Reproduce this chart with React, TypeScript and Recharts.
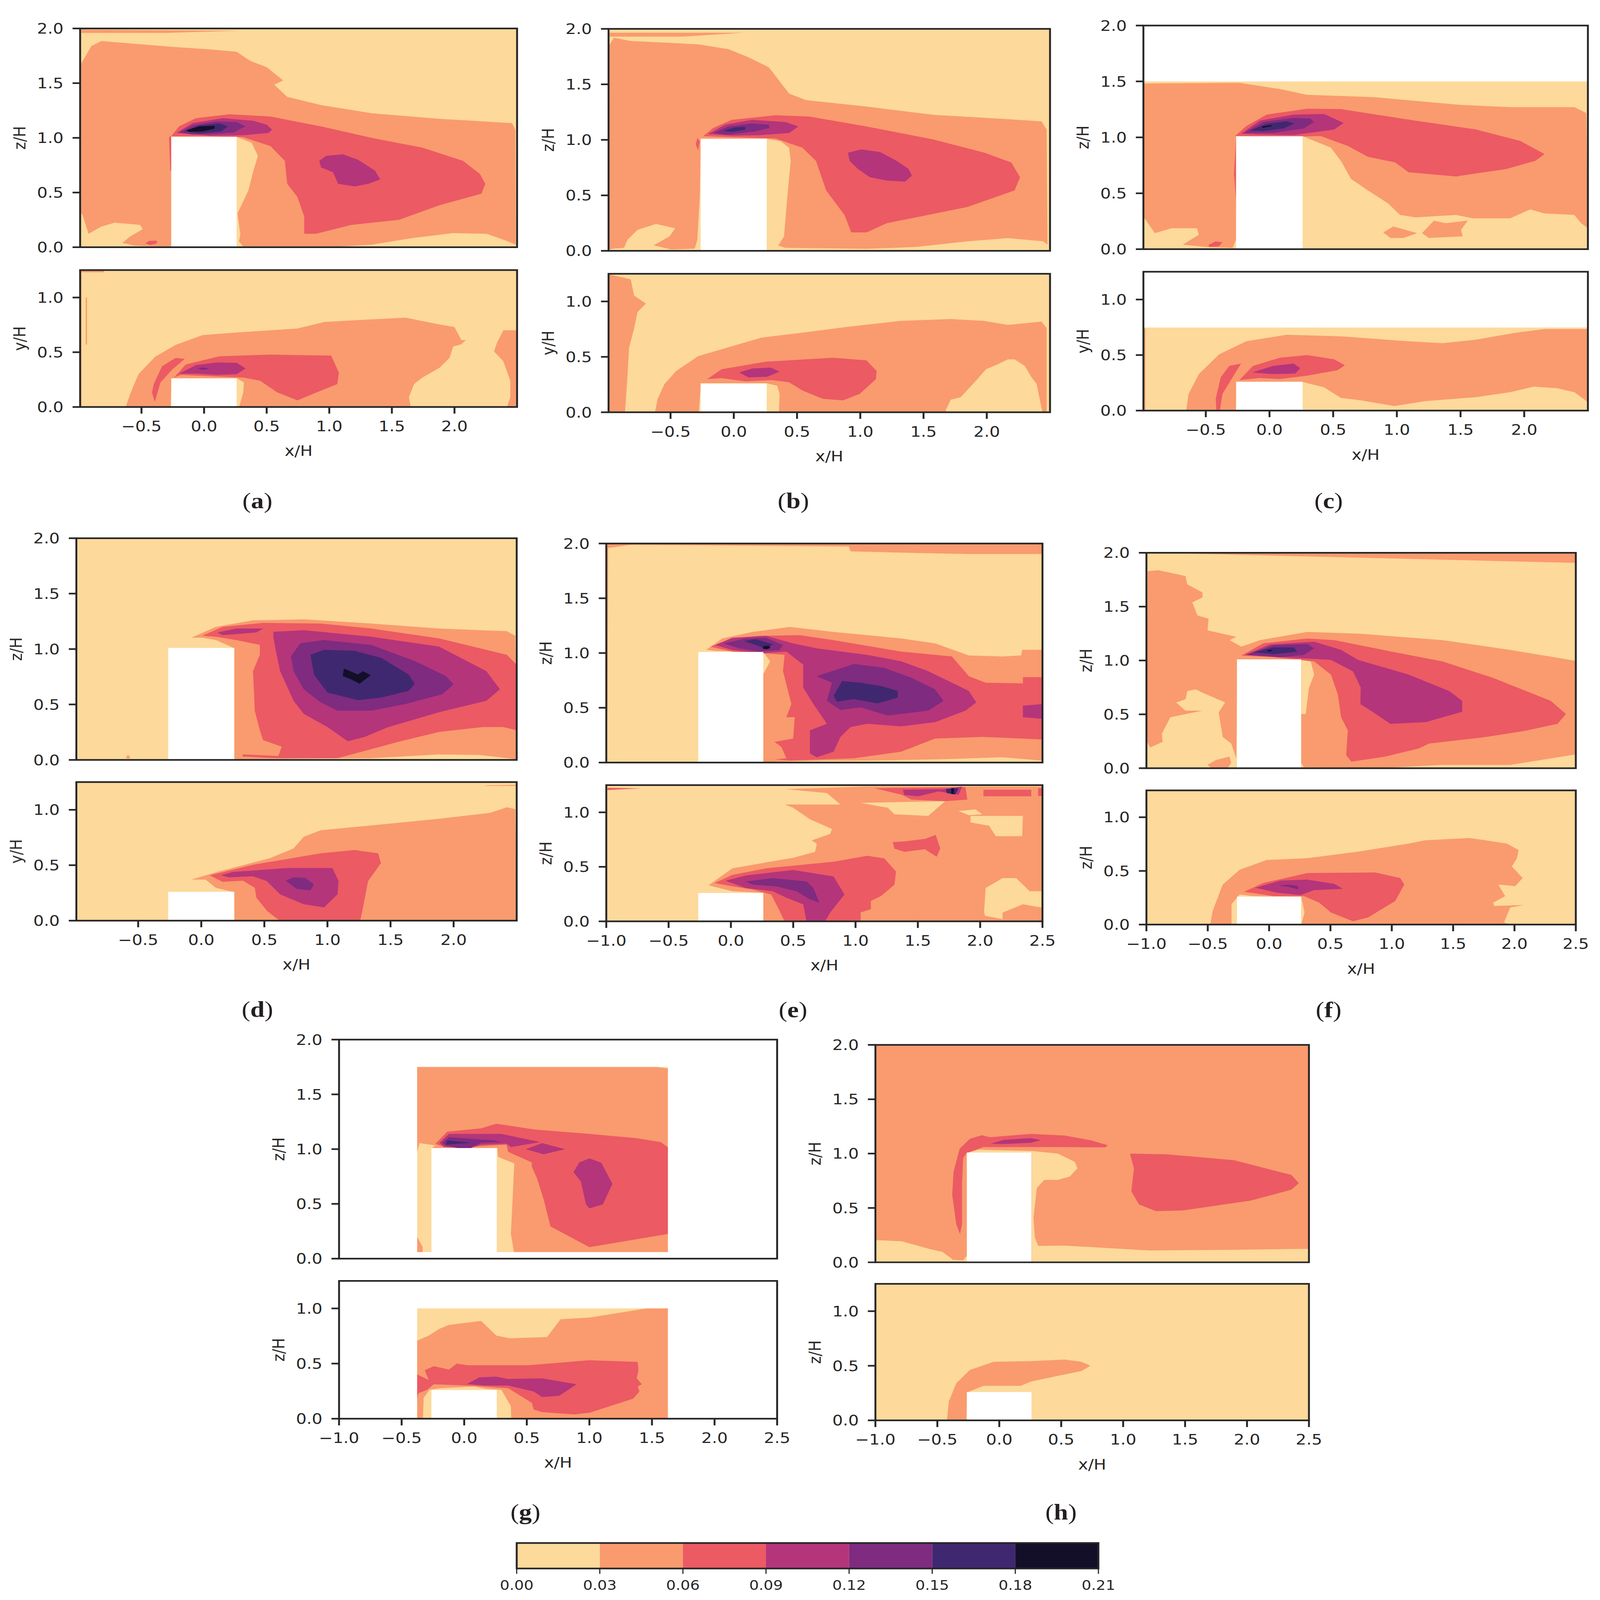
import { Bar, BarChart, ReferenceArea, Scatter, ScatterChart, XAxis, YAxis } from "recharts";

type Pt = number[];

const levels = [0, 0.03, 0.06, 0.09, 0.12, 0.15, 0.18, 0.21];
const levelColors = ["#FDD99B", "#F99B6E", "#EC5A63", "#B4357A", "#7F2B80", "#402870", "#140F29"];
const blank = "#ffffff";

const xTicksCut = [-0.5, 0, 0.5, 1, 1.5, 2];
const xTicksFull = [-1, -0.5, 0, 0.5, 1, 1.5, 2, 2.5];
const yTicksTop = [0, 0.5, 1, 1.5, 2];
const yTicksBottom = [0, 0.5, 1];

const buildingSide: Pt[] = [[-0.262, 0], [0.26, 0], [0.26, 1.01], [-0.262, 1.01]];
const buildingPlan: Pt[] = [[-0.262, 0], [0.26, 0], [0.26, 0.26], [-0.262, 0.26]];
const cutTop: Pt[] = [[-0.99, 0], [2.5, 0], [2.5, 2], [-0.99, 2]];
const cutBottom: Pt[] = [[-0.99, 0], [2.5, 0], [2.5, 1.25], [-0.99, 1.25]];
const fullTop: Pt[] = [[-1, 0], [2.5, 0], [2.5, 2], [-1, 2]];
const fullBottom: Pt[] = [[-1, 0], [2.5, 0], [2.5, 1.25], [-1, 1.25]];

// (a)
const aTopStrip: Pt[] = [[-0.98, 1.99], [0.29, 1.98], [-0.3, 1.96], [-0.98, 1.96]];
const aTop1: Pt[] = [[-0.983, 1.676], [-0.9, 1.84], [-0.82, 1.886], [-0.55, 1.86], [-0.227, 1.83], [0.043, 1.81], [0.26, 1.787], [0.367, 1.705], [0.5, 1.646], [0.632, 1.525], [0.56, 1.486], [0.664, 1.375], [0.934, 1.3], [1.34, 1.225], [1.88, 1.174], [2.46, 1.135], [2.486, 1.075], [2.49, 0.024], [2.39, 0.069], [2.257, 0.123], [1.987, 0.129], [1.663, 0.084], [1.34, 0.024], [1.07, 0.006], [0.313, 0.006], [0.278, 0.054], [0.29, 0.114], [0.267, 0.309], [0.354, 0.52], [0.394, 0.7], [0.43, 0.835], [0.38, 0.955], [0.26, 1.01], [-0.262, 1.01], [-0.262, 0.003], [-0.28, 0.003], [-0.55, 0.015], [-0.653, 0.039], [-0.59, 0.099], [-0.49, 0.165], [-0.51, 0.204], [-0.713, 0.225], [-0.82, 0.189], [-0.923, 0.123], [-0.97, 0.294], [-0.983, 0.31]];
const aTop2: Pt[] = [[-0.262, 1.015], [-0.2, 1.105], [-0.065, 1.18], [0.205, 1.216], [0.53, 1.195], [0.934, 1.105], [1.34, 1], [1.744, 0.91], [2.068, 0.79], [2.203, 0.67], [2.246, 0.58], [2.216, 0.49], [1.88, 0.384], [1.555, 0.25], [1.177, 0.204], [0.894, 0.123], [0.8, 0.123], [0.8, 0.28], [0.745, 0.46], [0.664, 0.58], [0.645, 0.79], [0.53, 0.925], [0.313, 1.006], [-0.01, 1.015]];
const aTop2Foot: Pt[] = [[-0.47, 0.035], [-0.44, 0.058], [-0.38, 0.06], [-0.375, 0.035], [-0.43, 0.02]];
const aTop2Wall: Pt[] = [[-0.28, 1], [-0.27, 1.02], [-0.262, 1], [-0.262, 0.7], [-0.27, 0.7]];
const aTop3: Pt[] = [[-0.22, 1.045], [-0.092, 1.135], [0.15, 1.18], [0.394, 1.156], [0.5, 1.12], [0.543, 1.075], [0.515, 1.045], [0.313, 1.024], [0.043, 1.02]];
const aTop3Wake: Pt[] = [[0.92, 0.79], [0.975, 0.835], [1.11, 0.85], [1.23, 0.8], [1.366, 0.7], [1.407, 0.62], [1.312, 0.58], [1.204, 0.556], [1.07, 0.58], [1.03, 0.685], [0.934, 0.73]];
const aTop4: Pt[] = [[-0.2, 1.05], [-0.092, 1.114], [0.097, 1.15], [0.26, 1.144], [0.33, 1.105], [0.235, 1.05], [0.097, 1.036], [-0.092, 1.03]];
const aTop5: Pt[] = [[-0.16, 1.06], [-0.038, 1.114], [0.124, 1.132], [0.19, 1.105], [0.138, 1.06], [-0.038, 1.04]];
const aTop6: Pt[] = [[-0.14, 1.07], [-0.038, 1.105], [0.084, 1.11], [0.084, 1.085], [-0.01, 1.06], [-0.12, 1.054]];
const aLowEdge: Pt[] = [[-0.99, 0], [-0.98, 0], [-0.98, 1.23], [-0.8, 1.23], [-0.8, 1.245], [-0.99, 1.245]];
const aLowThin: Pt[] = [[-0.945, 1], [-0.935, 1], [-0.935, 0.57], [-0.945, 0.57]];
const aLow1: Pt[] = [[-0.626, 0], [-0.59, 0.12], [-0.524, 0.3], [-0.39, 0.46], [-0.227, 0.567], [-0.01, 0.657], [0.26, 0.68], [0.745, 0.716], [0.96, 0.776], [1.34, 0.8], [1.61, 0.815], [1.85, 0.76], [2, 0.73], [2.055, 0.61], [2.09, 0.61], [2.055, 0.573], [1.99, 0.552], [1.96, 0.448], [1.88, 0.358], [1.744, 0.269], [1.677, 0.209], [1.636, 0.09], [1.65, 0], [0.28, 0], [0.313, 0.134], [0.318, 0.224], [0.26, 0.263], [-0.26, 0.263], [-0.267, 0]];
const aLow1Right: Pt[] = [[2.5, 0.7], [2.39, 0.7], [2.338, 0.582], [2.316, 0.507], [2.39, 0.418], [2.446, 0.239], [2.446, 0.09], [2.42, 0], [2.5, 0]];
const aLow2Arc: Pt[] = [[-0.154, 0.439], [-0.227, 0.448], [-0.335, 0.373], [-0.402, 0.209], [-0.416, 0.134], [-0.394, 0.045], [-0.348, 0.224], [-0.254, 0.343]];
const aLow2: Pt[] = [[-0.24, 0.269], [-0.146, 0.388], [0.124, 0.463], [0.53, 0.478], [1.015, 0.469], [1.077, 0.313], [1.064, 0.209], [0.934, 0.149], [0.745, 0.06], [0.583, 0.134], [0.448, 0.239], [0.313, 0.269], [-0.01, 0.284], [-0.186, 0.293]];
const aLow3: Pt[] = [[-0.2, 0.304], [-0.065, 0.382], [0.097, 0.406], [0.26, 0.403], [0.332, 0.352], [0.26, 0.299], [0.097, 0.293], [-0.065, 0.304]];
const aLow4: Pt[] = [[-0.05, 0.352], [-0.01, 0.361], [0.043, 0.352], [-0.01, 0.337]];

// (b)
const bTopStrip: Pt[] = [[-0.98, 1.965], [0.08, 1.965], [-0.4, 1.93], [-0.98, 1.93]];
const bTop1: Pt[] = [[-0.988, 1.846], [-0.948, 1.92], [-0.815, 1.89], [-0.548, 1.876], [-0.282, 1.86], [-0.043, 1.817], [0.117, 1.743], [0.277, 1.654], [0.357, 1.536], [0.437, 1.417], [0.57, 1.358], [1.05, 1.3], [1.58, 1.225], [2.114, 1.19], [2.433, 1.166], [2.473, 1.092], [2.48, 0.056], [2.447, 0.086], [2.167, 0.115], [1.848, 0.086], [1.448, 0.036], [1.05, 0.018], [0.41, 0.027], [0.351, 0.047], [0.397, 0.13], [0.423, 0.485], [0.45, 0.81], [0.437, 0.929], [0.37, 0.988], [0.258, 1.01], [-0.26, 1.01], [-0.269, 0.485], [-0.288, 0.1], [-0.309, 0.02], [-0.495, 0.012], [-0.634, 0.05], [-0.508, 0.13], [-0.463, 0.204], [-0.615, 0.243], [-0.76, 0.19], [-0.84, 0.1], [-0.868, 0.027], [-0.948, 0.02], [-0.988, 0.012]];
const bTop2: Pt[] = [[-0.242, 1.033], [-0.162, 1.107], [-0.016, 1.18], [0.33, 1.222], [0.596, 1.21], [1.05, 1.121], [1.58, 1.003], [1.98, 0.885], [2.194, 0.796], [2.263, 0.663], [2.22, 0.544], [1.848, 0.396], [1.528, 0.322], [1.209, 0.249], [1.05, 0.166], [0.929, 0.166], [0.876, 0.322], [0.73, 0.544], [0.65, 0.81], [0.543, 0.929], [0.33, 1.012], [-0.016, 1.024]];
const bTop2Wall: Pt[] = [[-0.288, 1.018], [-0.301, 0.96], [-0.282, 0.905], [-0.269, 0.988]];
const bTop3: Pt[] = [[-0.202, 1.053], [-0.069, 1.136], [0.144, 1.18], [0.41, 1.16], [0.511, 1.121], [0.437, 1.062], [0.197, 1.041], [-0.016, 1.038]];
const bTop3Wake: Pt[] = [[0.903, 0.885], [1.009, 0.914], [1.156, 0.89], [1.289, 0.81], [1.382, 0.737], [1.408, 0.678], [1.355, 0.624], [1.209, 0.633], [1.076, 0.663], [0.982, 0.737], [0.916, 0.81]];
const bTop4: Pt[] = [[-0.162, 1.062], [-0.043, 1.121], [0.144, 1.148], [0.277, 1.136], [0.282, 1.107], [0.17, 1.077], [-0.043, 1.047]];
const bTop5: Pt[] = [[-0.083, 1.083], [0.011, 1.112], [0.09, 1.118], [0.09, 1.092], [-0.016, 1.071]];
const bLowEdge: Pt[] = [[-0.99, 1.245], [-0.815, 1.2], [-0.788, 1.053], [-0.695, 0.98], [-0.761, 0.905], [-0.788, 0.757], [-0.828, 0.58], [-0.841, 0.314], [-0.86, 0], [-0.99, 0]];
const bLow1: Pt[] = [[-0.623, 0], [-0.602, 0.121], [-0.548, 0.254], [-0.455, 0.373], [-0.282, 0.506], [-0.016, 0.595], [0.224, 0.675], [0.516, 0.714], [0.916, 0.773], [1.315, 0.824], [1.715, 0.841], [1.98, 0.824], [2.167, 0.788], [2.433, 0.818], [2.473, 0.759], [2.473, 0], [2.44, 0], [2.394, 0.255], [2.354, 0.314], [2.3, 0.418], [2.22, 0.477], [2.167, 0.477], [2.087, 0.433], [1.994, 0.388], [1.914, 0.284], [1.794, 0.136], [1.715, 0.113], [1.675, 0.018], [1.688, 0], [0.357, 0], [0.362, 0.166], [0.343, 0.24], [0.258, 0.261], [-0.26, 0.261], [-0.277, 0]];
const bLow2: Pt[] = [[-0.21, 0.299], [-0.096, 0.388], [0.25, 0.456], [0.783, 0.492], [1.049, 0.468], [1.129, 0.373], [1.124, 0.299], [0.996, 0.166], [0.863, 0.107], [0.703, 0.121], [0.543, 0.196], [0.437, 0.27], [0.304, 0.29], [0.09, 0.279], [-0.096, 0.308]];
const bLow3: Pt[] = [[0.043, 0.359], [0.144, 0.394], [0.29, 0.403], [0.362, 0.367], [0.264, 0.32], [0.117, 0.314]];

// (c)
const cTop0: Pt[] = [[-0.99, 0], [2.5, 0], [2.5, 1.5], [-0.99, 1.5]];
const cTop1: Pt[] = [[-0.99, 1.482], [-0.236, 1.488], [0.082, 1.432], [0.295, 1.38], [0.826, 1.359], [1.49, 1.291], [1.889, 1.27], [2.394, 1.27], [2.487, 1.218], [2.5, 0.188], [2.447, 0.232], [2.394, 0.306], [2.155, 0.32], [2.048, 0.356], [1.889, 0.276], [1.597, 0.276], [1.464, 0.306], [1.145, 0.285], [1.025, 0.306], [0.932, 0.409], [0.773, 0.526], [0.64, 0.629], [0.56, 0.791], [0.481, 0.909], [0.263, 1.009], [-0.258, 1.009], [-0.263, 0.085], [-0.29, 0.012], [-0.502, 0.02], [-0.68, 0.041], [-0.555, 0.129], [-0.569, 0.188], [-0.768, 0.188], [-0.9, 0.144], [-0.954, 0.232], [-0.99, 0.291]];
const cTop1Isle: Pt[] = [[0.893, 0.15], [0.973, 0.203], [1.159, 0.144], [1.052, 0.1], [0.95, 0.1]];
const cTop1Isle2: Pt[] = [[1.198, 0.144], [1.291, 0.256], [1.384, 0.232], [1.557, 0.256], [1.504, 0.174], [1.517, 0.115], [1.251, 0.1]];
const cTop2: Pt[] = [[-0.271, 1.012], [-0.183, 1.1], [-0.024, 1.203], [0.295, 1.256], [0.56, 1.253], [1.092, 1.159], [1.623, 1.07], [1.969, 0.968], [2.16, 0.85], [2.088, 0.791], [1.862, 0.718], [1.464, 0.65], [1.092, 0.688], [0.986, 0.776], [0.773, 0.826], [0.614, 0.924], [0.401, 1.012], [0.082, 1.003]];
const cTop2Wall: Pt[] = [[-0.263, 0.997], [-0.279, 0.674], [-0.263, 0.438]];
const cTop2Foot: Pt[] = [[-0.476, 0.041], [-0.422, 0.071], [-0.369, 0.062], [-0.396, 0.026], [-0.476, 0.02]];
const cTop3: Pt[] = [[-0.223, 1.032], [-0.077, 1.15], [0.189, 1.203], [0.428, 1.209], [0.582, 1.129], [0.507, 1.07], [0.189, 1.021], [-0.077, 1.026]];
const cTop4: Pt[] = [[-0.197, 1.041], [-0.05, 1.138], [0.189, 1.174], [0.321, 1.168], [0.348, 1.138], [0.268, 1.079], [0.029, 1.041]];
const cTop5: Pt[] = [[-0.151, 1.062], [-0.024, 1.121], [0.135, 1.144], [0.194, 1.124], [0.109, 1.079], [-0.05, 1.056]];
const cTop6: Pt[] = [[-0.064, 1.097], [0.016, 1.109], [0.016, 1.1], [-0.05, 1.085]];
const cLow0: Pt[] = [[-0.99, 0], [2.5, 0], [2.5, 0.748], [-0.99, 0.748]];
const cLowEdge: Pt[] = [[-0.99, 0], [-0.975, 0], [-0.975, 0.74], [-0.99, 0.74]];
const cLow1: Pt[] = [[-0.654, 0], [-0.635, 0.151], [-0.555, 0.328], [-0.396, 0.506], [-0.183, 0.624], [0.135, 0.683], [0.561, 0.669], [1.092, 0.624], [1.358, 0.607], [1.623, 0.639], [1.915, 0.698], [2.155, 0.734], [2.5, 0.734], [2.5, 0.077], [2.394, 0.166], [2.261, 0.201], [2.075, 0.216], [1.889, 0.166], [1.623, 0.121], [1.225, 0.086], [0.98, 0.041], [0.72, 0.092], [0.56, 0.115], [0.428, 0.21], [0.263, 0.257], [-0.258, 0.257], [-0.263, 0]];
const cLow2Arc: Pt[] = [[-0.223, 0.423], [-0.316, 0.402], [-0.383, 0.299], [-0.422, 0.107], [-0.417, 0], [-0.39, 0], [-0.369, 0.151], [-0.29, 0.299]];
const cLow2: Pt[] = [[-0.236, 0.275], [-0.13, 0.402], [0.082, 0.476], [0.295, 0.5], [0.507, 0.462], [0.592, 0.408], [0.534, 0.364], [0.295, 0.314], [0.082, 0.284], [-0.077, 0.293]];
const cLow3: Pt[] = [[-0.135, 0.343], [0.029, 0.402], [0.189, 0.423], [0.242, 0.382], [0.202, 0.334], [0.029, 0.328]];

// (d)
const dTop1: Pt[] = [[-0.078, 1.102], [0.115, 1.2], [0.41, 1.259], [0.812, 1.268], [1.349, 1.23], [1.885, 1.185], [2.421, 1.161], [2.488, 1.12], [2.5, 0.006], [2.206, 0.044], [1.885, 0.05], [1.349, 0.015], [0.6, 0.01], [0.263, 0.006], [0.263, 1.007], [0.115, 1.081], [0.008, 1.102]];
const dTop1Dot: Pt[] = [[-0.6, 0.02], [-0.58, 0.045], [-0.56, 0.02], [-0.58, 0.012]];
const dTop2: Pt[] = [[0.008, 1.12], [0.169, 1.2], [0.49, 1.236], [0.946, 1.23], [1.349, 1.185], [1.885, 1.096], [2.421, 0.948], [2.5, 0.859], [2.5, 0.267], [2.394, 0.296], [2.233, 0.296], [1.885, 0.252], [1.563, 0.163], [1.08, 0.015], [0.598, 0.015], [0.324, 0.03], [0.33, 0.05], [0.611, 0.036], [0.638, 0.119], [0.49, 0.178], [0.464, 0.267], [0.424, 0.444], [0.41, 0.8], [0.464, 0.948], [0.464, 1.037], [0.276, 1.081], [0.115, 1.111]];
const dTop3: Pt[] = [[0.571, 1.156], [0.812, 1.17], [1.349, 1.111], [1.885, 1.022], [2.26, 0.8], [2.367, 0.637], [2.26, 0.533], [1.885, 0.43], [1.483, 0.296], [1.295, 0.207], [1.161, 0.169], [1, 0.296], [0.812, 0.415], [0.732, 0.533], [0.625, 0.8], [0.592, 0.978], [0.571, 1.111]];
const dTop3Lip: Pt[] = [[0.129, 1.15], [0.276, 1.185], [0.49, 1.185], [0.437, 1.15], [0.249, 1.132], [0.169, 1.126]];
const dTop4: Pt[] = [[0.71, 0.933], [0.785, 1.052], [0.973, 1.081], [1.349, 1.037], [1.697, 0.889], [1.938, 0.756], [2, 0.681], [1.912, 0.593], [1.617, 0.504], [1.349, 0.444], [1.08, 0.444], [0.946, 0.519], [0.812, 0.637], [0.732, 0.8]];
const dTop5: Pt[] = [[0.866, 0.948], [0.973, 0.993], [1.214, 0.984], [1.429, 0.919], [1.643, 0.77], [1.692, 0.687], [1.643, 0.622], [1.429, 0.563], [1.241, 0.539], [1, 0.607], [0.893, 0.77]];
const dTop6: Pt[] = [[1.129, 0.815], [1.134, 0.824], [1.241, 0.77], [1.282, 0.8], [1.343, 0.764], [1.255, 0.687], [1.188, 0.726], [1.121, 0.756]];
const dLowStreak: Pt[] = [[2.25, 1.22], [2.5, 1.225], [2.5, 1.215], [2.25, 1.215]];
const dLow1: Pt[] = [[-0.078, 0.37], [0.142, 0.444], [0.544, 0.563], [0.732, 0.652], [0.812, 0.756], [0.946, 0.815], [1.349, 0.859], [1.885, 0.919], [2.287, 0.972], [2.421, 1.022], [2.488, 1.007], [2.5, 0], [0.263, 0], [0.263, 0.258], [0.196, 0.273], [0.115, 0.296], [0.035, 0.37]];
const dLow2: Pt[] = [[0.067, 0.409], [0.41, 0.504], [0.946, 0.607], [1.214, 0.637], [1.402, 0.607], [1.424, 0.519], [1.322, 0.356], [1.282, 0.119], [1.26, 0], [0.62, 0], [0.52, 0.089], [0.437, 0.207], [0.424, 0.296], [0.33, 0.361], [0.169, 0.35]];
const dLow3: Pt[] = [[0.155, 0.409], [0.249, 0.439], [0.678, 0.474], [1.04, 0.474], [1.088, 0.356], [1.08, 0.237], [0.973, 0.119], [0.812, 0.148], [0.625, 0.237], [0.52, 0.356], [0.41, 0.4], [0.222, 0.391]];
const dLow4: Pt[] = [[0.67, 0.361], [0.732, 0.391], [0.825, 0.385], [0.893, 0.326], [0.866, 0.273], [0.756, 0.287]];

// (e)
const eTopBand: Pt[] = [[-1, 2], [2.5, 2], [2.5, 1.904], [1.909, 1.904], [1.502, 1.913], [0.96, 1.928], [0.946, 1.973], [-0.803, 1.988], [-0.992, 1.958]];
const eTopEdge: Pt[] = [[-1, 0.2], [-0.99, 0.5], [-0.985, 1.96], [-1, 1.96]];
const eTop1: Pt[] = [[-0.198, 1.029], [-0.07, 1.133], [0.174, 1.193], [0.472, 1.238], [0.824, 1.193], [1.367, 1.133], [1.638, 1.088], [1.909, 0.978], [2.18, 0.969], [2.329, 0.978], [2.337, 1.029], [2.5, 1.029], [2.5, 0.018], [2.18, 0.048], [1.773, 0.033], [1.095, 0.018], [0.77, 0.018], [0.258, 0.006], [0.258, 0.804], [0.315, 0.924], [0.258, 1.01], [-0.125, 1.02]];
const eTop2: Pt[] = [[-0.165, 1.058], [0.011, 1.133], [0.228, 1.157], [0.553, 1.163], [0.824, 1.118], [1.367, 1.013], [1.773, 0.969], [1.909, 0.789], [2.044, 0.729], [2.343, 0.723], [2.343, 0.78], [2.5, 0.78], [2.5, 0.21], [2.343, 0.219], [2.017, 0.234], [1.638, 0.219], [1.367, 0.099], [0.987, 0.039], [0.472, 0.018], [0.35, 0.03], [0.445, 0.039], [0.404, 0.144], [0.35, 0.189], [0.499, 0.219], [0.512, 0.414], [0.445, 0.414], [0.485, 0.534], [0.418, 0.834], [0.431, 0.984], [0.255, 0.998], [0.011, 1.013]];
const eTop3: Pt[] = [[-0.125, 1.073], [0.011, 1.139], [0.282, 1.157], [0.499, 1.088], [0.689, 1.043], [1.095, 0.983], [1.367, 0.924], [1.583, 0.834], [1.909, 0.654], [1.969, 0.549], [1.882, 0.474], [1.638, 0.369], [1.367, 0.33], [1.095, 0.354], [0.96, 0.324], [0.879, 0.234], [0.824, 0.099], [0.689, 0.048], [0.634, 0.084], [0.634, 0.294], [0.77, 0.354], [0.662, 0.534], [0.58, 0.684], [0.58, 0.894], [0.445, 1.013], [0.255, 0.998], [0.011, 1.028]];
const eTop3Right: Pt[] = [[2.343, 0.519], [2.5, 0.534], [2.5, 0.399], [2.343, 0.414]];
const eTop4: Pt[] = [[-0.057, 1.088], [0.119, 1.133], [0.282, 1.139], [0.418, 1.073], [0.39, 1.028], [0.228, 1.013], [0.065, 1.043]];
const eTop5: Pt[] = [[0.106, 1.109], [0.2, 1.127], [0.336, 1.079], [0.282, 1.037], [0.2, 1.073]];
const eTop6: Pt[] = [[0.255, 1.05], [0.27, 1.065], [0.31, 1.065], [0.315, 1.045], [0.29, 1.035], [0.26, 1.037]];
const eTop4Wake: Pt[] = [[0.689, 0.789], [0.987, 0.9], [1.231, 0.864], [1.448, 0.774], [1.638, 0.669], [1.706, 0.564], [1.583, 0.474], [1.258, 0.429], [1.041, 0.504], [0.879, 0.48], [0.77, 0.564], [0.811, 0.729]];
const eTop5Wake: Pt[] = [[0.824, 0.609], [0.892, 0.744], [1.041, 0.729], [1.204, 0.699], [1.339, 0.654], [1.339, 0.594], [1.177, 0.54], [0.987, 0.579], [0.851, 0.555]];
const eLow1: Pt[] = [[-0.179, 0.33], [0.011, 0.486], [0.499, 0.583], [0.675, 0.637], [0.689, 0.712], [0.648, 0.742], [0.797, 0.802], [0.811, 0.847], [0.634, 0.937], [0.499, 1.042], [0.431, 1.072], [0.879, 1.072], [0.77, 1.177], [0.445, 1.213], [1.095, 1.237], [2.5, 1.237], [2.5, 0], [0.258, 0], [0.258, 0.261], [0.011, 0.276]];
const eLowStreak: Pt[] = [[-0.99, 1.225], [-0.72, 1.22], [-0.99, 1.205]];
const eLowGap: Pt[] = [[2.031, 0.081], [2.044, 0.306], [2.18, 0.396], [2.289, 0.396], [2.397, 0.276], [2.492, 0.276], [2.492, 0.126], [2.343, 0.156], [2.18, 0.08], [2.18, 0.02], [2.04, 0.05]];
const eLowGap2: Pt[] = [[1.923, 0.967], [2.343, 0.967], [2.337, 0.781], [2.126, 0.781], [2.071, 0.877], [1.923, 0.907]];
const eLowGap3: Pt[] = [[1.041, 1.087], [1.719, 1.102], [1.583, 0.967], [1.312, 0.982], [1.258, 1.042]];
const eLowGap4: Pt[] = [[1.827, 1.012], [1.963, 1.027], [2.017, 0.982], [1.909, 0.973]];
const eLow2: Pt[] = [[-0.13, 0.351], [0.011, 0.426], [0.282, 0.486], [0.824, 0.547], [1.095, 0.601], [1.231, 0.577], [1.325, 0.456], [1.312, 0.336], [1.204, 0.231], [1.123, 0.186], [1.123, 0.111], [1.041, 0.081], [1.041, 0], [0.431, 0], [0.377, 0.126], [0.323, 0.246], [0.174, 0.291], [0.011, 0.321]];
const eLow2Blob: Pt[] = [[1.299, 0.727], [1.393, 0.733], [1.562, 0.757], [1.643, 0.793], [1.68, 0.667], [1.651, 0.592], [1.556, 0.661], [1.393, 0.637], [1.312, 0.667]];
const eLow2High: Pt[] = [[1.15, 1.222], [1.882, 1.231], [1.897, 1.117], [1.719, 1.102], [1.448, 1.117], [1.367, 1.162]];
const eLow2High2: Pt[] = [[2.026, 1.207], [2.41, 1.207], [2.41, 1.147], [2.026, 1.147]];
const eLow2High3: Pt[] = [[2.465, 1.222], [2.5, 1.222], [2.5, 1.15], [2.465, 1.15]];
const eLow3: Pt[] = [[-0.043, 0.372], [0.119, 0.42], [0.499, 0.471], [0.824, 0.411], [0.911, 0.246], [0.797, 0.081], [0.756, 0], [0.607, 0], [0.58, 0.156], [0.445, 0.216], [0.336, 0.276], [0.119, 0.306]];
const eLow3High: Pt[] = [[1.38, 1.207], [1.705, 1.213], [1.855, 1.237], [1.827, 1.162], [1.665, 1.192], [1.503, 1.147], [1.39, 1.16]];
const eLow4: Pt[] = [[0.119, 0.366], [0.336, 0.396], [0.607, 0.366], [0.662, 0.306], [0.71, 0.171], [0.634, 0.201], [0.526, 0.276], [0.363, 0.321], [0.174, 0.336]];
const eLow5: Pt[] = [[1.724, 1.213], [1.827, 1.222], [1.8, 1.162], [1.732, 1.177]];
const eLow6: Pt[] = [[1.768, 1.222], [1.79, 1.222], [1.79, 1.17], [1.768, 1.17]];

// (f)
const fTopBand: Pt[] = [[-0.708, 1.994], [2.5, 1.994], [2.5, 1.906]];
const fTop1: Pt[] = [[-0.99, 1.829], [-0.902, 1.838], [-0.681, 1.784], [-0.667, 1.707], [-0.543, 1.631], [-0.543, 1.585], [-0.626, 1.54], [-0.584, 1.418], [-0.493, 1.387], [-0.502, 1.28], [-0.267, 1.22], [-0.322, 1.189], [-0.226, 1.128], [-0.074, 1.189], [0.311, 1.265], [0.725, 1.25], [1.414, 1.189], [1.965, 1.098], [2.5, 0.997], [2.5, 0.128], [1.965, 0.03], [1.414, 0.03], [0.863, 0], [0.284, 0.009], [0.262, 0.046], [0.262, 0.503], [0.298, 0.503], [0.325, 0.747], [0.367, 0.869], [0.339, 0.991], [0.262, 1.006], [-0.259, 1.006], [-0.267, 0.091], [-0.309, 0.229], [-0.378, 0.29], [-0.411, 0.518], [-0.358, 0.61], [-0.543, 0.701], [-0.598, 0.732], [-0.667, 0.716], [-0.681, 0.64], [-0.758, 0.61], [-0.681, 0.534], [-0.543, 0.534], [-0.805, 0.473], [-0.874, 0.32], [-0.868, 0.244], [-0.97, 0.192], [-1, 0.259]];
const fTop1Foot: Pt[] = [[-0.502, 0.03], [-0.433, 0.076], [-0.322, 0.107], [-0.309, 0.046], [-0.336, 0.006], [-0.474, 0.006]];
const fTop2: Pt[] = [[-0.226, 1.046], [-0.047, 1.159], [0.311, 1.204], [0.532, 1.189], [1, 1.082], [1.414, 0.991], [1.827, 0.838], [2.296, 0.625], [2.42, 0.503], [2.351, 0.412], [2.076, 0.345], [1.772, 0.29], [1.304, 0.229], [1.221, 0.183], [0.945, 0.107], [0.67, 0.061], [0.628, 0.122], [0.642, 0.351], [0.587, 0.473], [0.56, 0.686], [0.504, 0.869], [0.367, 0.991], [0.036, 1.03]];
const fTop3: Pt[] = [[-0.198, 1.052], [0.008, 1.149], [0.367, 1.174], [0.587, 1.098], [0.725, 1.006], [1.138, 0.869], [1.469, 0.716], [1.574, 0.625], [1.574, 0.524], [1.276, 0.427], [0.987, 0.412], [0.863, 0.509], [0.744, 0.595], [0.747, 0.747], [0.684, 0.899], [0.504, 1.006], [0.256, 1.021], [0.008, 1.037]];
const fTop4: Pt[] = [[-0.185, 1.052], [0.036, 1.143], [0.311, 1.152], [0.367, 1.113], [0.284, 1.052], [0.091, 1.03]];
const fTop5: Pt[] = [[-0.13, 1.076], [0.036, 1.122], [0.201, 1.122], [0.229, 1.082], [0.036, 1.058]];
const fTop6: Pt[] = [[-0.025, 1.094], [0.03, 1.1], [0.008, 1.082]];
const fLow1: Pt[] = [[-0.48, 0], [-0.46, 0.128], [-0.378, 0.373], [-0.24, 0.511], [-0.019, 0.602], [0.311, 0.618], [0.725, 0.679], [1.138, 0.755], [1.276, 0.786], [1.635, 0.807], [1.938, 0.755], [2.034, 0.694], [2.02, 0.618], [1.979, 0.541], [2.067, 0.434], [2.006, 0.358], [1.868, 0.373], [1.924, 0.266], [1.827, 0.205], [1.833, 0.174], [2.076, 0.183], [1.965, 0.159], [1.915, 0.021], [1.965, 0], [0.262, 0], [0.289, 0.113], [0.262, 0.257], [-0.13, 0.266], [-0.24, 0.281], [-0.306, 0.19], [-0.306, 0]];
const fLow2: Pt[] = [[-0.204, 0.306], [-0.047, 0.388], [0.311, 0.48], [0.863, 0.486], [1.069, 0.434], [1.102, 0.373], [1.028, 0.22], [0.808, 0.067], [0.684, 0.031], [0.504, 0.113], [0.408, 0.205], [0.284, 0.266], [0.036, 0.266]];
const fLow3: Pt[] = [[-0.11, 0.343], [0.091, 0.41], [0.311, 0.419], [0.532, 0.379], [0.601, 0.333], [0.367, 0.321], [0.256, 0.275], [0.063, 0.297]];
const fLow4: Pt[] = [[0.085, 0.364], [0.16, 0.373], [0.237, 0.358], [0.237, 0.327], [0.16, 0.352]];

// (g)
const gTop0: Pt[] = [[-0.376, 0.06], [1.627, 0.06], [1.627, 1.75], [-0.376, 1.75]];
const gTop1: Pt[] = [[-0.376, 1.75], [1.541, 1.75], [1.627, 1.736], [1.627, 0.06], [0.397, 0.06], [0.373, 0.225], [0.4, 0.87], [0.27, 0.93], [0.265, 1.01], [-0.257, 1.01], [-0.23, 1.034], [-0.357, 1.055], [-0.376, 0.975]];
const gTop1Foot: Pt[] = [[-0.376, 0.2], [-0.332, 0.105], [-0.332, 0.06], [-0.376, 0.06]];
const gTop2: Pt[] = [[-0.23, 1.049], [-0.135, 1.16], [0.135, 1.19], [0.257, 1.232], [0.568, 1.178], [0.973, 1.142], [1.378, 1.1], [1.568, 1.064], [1.627, 1.019], [1.627, 0.225], [1, 0.105], [0.689, 0.294], [0.635, 0.54], [0.581, 0.735], [0.54, 0.84], [0.54, 0.879], [0.351, 0.975], [0.338, 1.04], [0.135, 1.028], [0.081, 1.02], [-0.162, 1.02]];
const gTop3: Pt[] = [[-0.197, 1.058], [-0.122, 1.139], [0.297, 1.139], [0.608, 1.064], [0.373, 1.019], [0.338, 1.05], [0.135, 1.04], [0.027, 1.01], [-0.162, 1.02]];
const gTop3Mid: Pt[] = [[0.492, 0.999], [0.622, 1.055], [0.805, 0.999], [0.635, 0.953]];
const gTop3Wake: Pt[] = [[0.873, 0.789], [0.919, 0.879], [1, 0.915], [1.095, 0.876], [1.184, 0.684], [1.108, 0.495], [1, 0.459], [0.973, 0.495], [0.932, 0.705]];
const gTop4: Pt[] = [[-0.176, 1.058], [-0.122, 1.109], [0.243, 1.079], [0.297, 1.064], [0.135, 1.058], [0.054, 1.01], [-0.054, 1.01], [-0.149, 1.034]];
const gTop5: Pt[] = [[-0.149, 1.04], [-0.135, 1.079], [0.054, 1.058]];
const gLow0: Pt[] = [[-0.376, 0], [1.627, 0], [1.627, 1], [-0.376, 1]];
const gLow1: Pt[] = [[-0.376, 0.708], [-0.284, 0.753], [-0.203, 0.813], [-0.122, 0.851], [0.135, 0.887], [0.257, 0.753], [0.365, 0.729], [0.662, 0.741], [0.77, 0.902], [1, 0.917], [1.459, 1], [1.627, 1], [1.627, 0], [0.376, 0], [0.373, 0.113], [0.297, 0.262], [0.176, 0.271], [0.081, 0.292], [-0.189, 0.277], [-0.278, 0.262], [-0.324, 0.188], [-0.33, 0], [-0.376, 0]];
const gLow2: Pt[] = [[-0.376, 0.402], [-0.284, 0.351], [-0.316, 0.44], [-0.243, 0.476], [-0.122, 0.446], [-0.059, 0.5], [0.027, 0.485], [0.514, 0.485], [1, 0.53], [1.386, 0.515], [1.392, 0.44], [1.378, 0.366], [1.419, 0.312], [1.386, 0.292], [1.4, 0.247], [1.351, 0.182], [1, 0.054], [0.878, 0.039], [0.622, 0.06], [0.554, 0.083], [0.541, 0.143], [0.351, 0.277], [0.081, 0.298], [-0.243, 0.312], [-0.297, 0.262], [-0.365, 0.232], [-0.376, 0.188]];
const gLow3: Pt[] = [[0.022, 0.315], [0.122, 0.375], [0.257, 0.381], [0.351, 0.36], [0.622, 0.366], [0.897, 0.312], [0.811, 0.247], [0.757, 0.208], [0.622, 0.196], [0.554, 0.247], [0.351, 0.301], [0.162, 0.301]];

// (h)
const hTopFoot: Pt[] = [[-1, 0.205], [-0.787, 0.193], [-0.566, 0.124], [-0.456, 0.094], [-0.374, 0.024], [-0.292, 0.018], [-0.26, 0.063], [-0.26, 0], [-1, 0]];
const hTopLee: Pt[] = [[-0.26, 1.006], [-0.169, 1.036], [0.262, 1.024], [0.473, 1], [0.609, 0.924], [0.631, 0.864], [0.569, 0.789], [0.473, 0.758], [0.363, 0.758], [0.303, 0.683], [0.276, 0.411], [0.287, 0.23], [0.314, 0.151], [0.527, 0.154], [1.21, 0.109], [1.893, 0.115], [2.5, 0.124], [2.5, 0], [0.262, 0], [0.262, 1.006]];
const hTop2Wall: Pt[] = [[-0.26, 1.015], [-0.32, 1.045], [-0.369, 0.834], [-0.38, 0.622], [-0.347, 0.35], [-0.317, 0.26], [-0.301, 0.35], [-0.301, 0.713], [-0.292, 0.955]];
const hTop2Roof: Pt[] = [[-0.32, 1.045], [-0.238, 1.136], [-0.142, 1.169], [-0.074, 1.151], [0.254, 1.181], [0.527, 1.166], [0.746, 1.121], [0.877, 1.076], [0.855, 1.057], [0.527, 1.06], [0.145, 1.06], [-0.128, 1.06], [-0.26, 1.006]];
const hTop3: Pt[] = [[-0.068, 1.091], [0.036, 1.127], [0.254, 1.142], [0.336, 1.124], [0.254, 1.1], [0.036, 1.088]];
const hTop2Wake: Pt[] = [[1.055, 1], [1.347, 0.994], [1.893, 0.94], [2.358, 0.804], [2.418, 0.728], [2.358, 0.668], [2.03, 0.568], [1.484, 0.477], [1.265, 0.471], [1.128, 0.532], [1.066, 0.653], [1.087, 0.864]];
const hLow1: Pt[] = [[-0.423, 0], [-0.407, 0.175], [-0.347, 0.34], [-0.238, 0.461], [-0.046, 0.536], [0.254, 0.542], [0.527, 0.557], [0.664, 0.536], [0.735, 0.5], [0.664, 0.452], [0.445, 0.401], [0.254, 0.355], [0.172, 0.316], [-0.128, 0.316], [-0.26, 0.256], [-0.265, 0]];

type Layer = [number, Pt[]];

const pts = (list: Pt[]) => list.map(([x, y]) => ({ x, y }));

const drawFill = (color: string) => (props: any) => {
  const d = props.points.map((p: any, i: number) => `${i ? "L" : "M"}${p.x},${p.y}`).join("") + "Z";
  return <path d={d} fill={color} stroke="none" />;
};

const tickFont = { fontSize: 44, fill: "#262626", fontFamily: "DejaVu Sans" };
const tickStyle = { stroke: "#262626", strokeWidth: 5 };
const fmt = (v: number) => v.toFixed(1).replace("-", "\u2212");

function Contour({ x0, x1, y0, y1, cut, low, yLabel, showX, layers }: {
  x0: number; x1: number; y0: number; y1: number; cut: boolean; low: boolean;
  yLabel: string; showX: boolean; layers: Layer[];
}) {
  const xDomain = [cut ? -0.99 : -1, 2.5];
  const yDomain = [0, low ? 1.25 : 2];
  const w = x1 - x0;
  const h = y1 - y0;
  const xHeight = showX ? 170 : 30;
  return (
    <div style={{ position: "absolute", left: x0 - 220, top: y0 - 40 }}>
      <ScatterChart width={w + 280} height={h + 40 + xHeight} margin={{ top: 40, right: 60, bottom: 0, left: 0 }}>
        {layers.map(([lv, list], i) => {
          const color = lv < 0 ? blank : levelColors[lv];
          return (
            <Scatter key={i} data={pts(list)} dataKey="y" isAnimationActive={false} fill={color}
              line={drawFill(color)} shape={() => <g />} />
          );
        })}
        <XAxis type="number" dataKey="x" domain={xDomain} allowDataOverflow ticks={cut ? xTicksCut : xTicksFull}
          interval={0} height={xHeight} tick={showX ? tickFont : false} tickFormatter={fmt} tickSize={20} tickMargin={22}
          tickLine={tickStyle} axisLine={false}
          label={showX ? { value: "x/H", position: "insideBottom", offset: 22, fontSize: 44, fill: "#262626", fontFamily: "DejaVu Sans" } : undefined} />
        <YAxis type="number" dataKey="y" domain={yDomain} allowDataOverflow ticks={low ? yTicksBottom : yTicksTop}
          interval={0} width={220} tick={tickFont} tickFormatter={fmt} tickSize={20} tickMargin={24}
          tickLine={tickStyle} axisLine={false}
          label={{ value: yLabel, angle: -90, position: "insideLeft", offset: 60, fontSize: 44, fill: "#262626", fontFamily: "DejaVu Sans", style: { textAnchor: "middle" } }} />
        <ReferenceArea x1={xDomain[0]} x2={xDomain[1]} y1={yDomain[0]} y2={yDomain[1]} fill="none" stroke="#262626" strokeWidth={5} zIndex={2000} />
      </ScatterChart>
    </div>
  );
}

const panels = [
  {
    cap: "a", capX: 681, capY: 1510, x0: 212, x1: 1368, top: [86, 746], bottom: [815, 1228], cut: true, lowLabel: "y/H",
    topLayers: [[0, cutTop], [1, aTopStrip], [1, aTop1], [2, aTop2], [2, aTop2Foot], [2, aTop2Wall], [3, aTop3], [3, aTop3Wake], [4, aTop4], [5, aTop5], [6, aTop6], [-1, buildingSide]],
    lowLayers: [[0, cutBottom], [1, aLowEdge], [1, aLowThin], [1, aLow1], [1, aLow1Right], [2, aLow2Arc], [2, aLow2], [3, aLow3], [4, aLow4], [-1, buildingPlan]],
  },
  {
    cap: "b", capX: 2099, capY: 1510, x0: 1610, x1: 2778, top: [87, 757], bottom: [826, 1244], cut: true, lowLabel: "y/H",
    topLayers: [[0, cutTop], [1, bTopStrip], [1, bTop1], [2, bTop2], [2, bTop2Wall], [3, bTop3], [3, bTop3Wake], [4, bTop4], [5, bTop5], [-1, buildingSide]],
    lowLayers: [[0, cutBottom], [1, bLowEdge], [1, bLow1], [2, bLow2], [3, bLow3], [-1, buildingPlan]],
  },
  {
    cap: "c", capX: 3515, capY: 1510, x0: 3025, x1: 4201, top: [77, 752], bottom: [820, 1239], cut: true, lowLabel: "y/H",
    topLayers: [[0, cTop0], [1, cTop1], [1, cTop1Isle], [1, cTop1Isle2], [2, cTop2], [2, cTop2Wall], [2, cTop2Foot], [3, cTop3], [4, cTop4], [5, cTop5], [6, cTop6], [-1, buildingSide]],
    lowLayers: [[0, cLow0], [1, cLowEdge], [1, cLow1], [2, cLow2Arc], [2, cLow2], [3, cLow3], [-1, buildingPlan]],
  },
  {
    cap: "d", capX: 681, capY: 3045, x0: 202, x1: 1367, top: [1624, 2293], bottom: [2360, 2778], cut: true, lowLabel: "y/H",
    topLayers: [[0, cutTop], [1, dTop1], [1, dTop1Dot], [2, dTop2], [3, dTop3], [3, dTop3Lip], [4, dTop4], [5, dTop5], [6, dTop6], [-1, buildingSide]],
    lowLayers: [[0, cutBottom], [1, dLowStreak], [1, dLow1], [2, dLow2], [3, dLow3], [4, dLow4], [-1, buildingPlan]],
  },
  {
    cap: "e", capX: 2098, capY: 3046, x0: 1604, x1: 2758, top: [1640, 2301], bottom: [2369, 2780], cut: false, lowLabel: "z/H",
    topLayers: [[0, fullTop], [1, eTopBand], [1, eTopEdge], [1, eTop1], [2, eTop2], [3, eTop3], [3, eTop3Right], [4, eTop4], [5, eTop5], [6, eTop6], [4, eTop4Wake], [5, eTop5Wake], [-1, buildingSide]],
    lowLayers: [[0, fullBottom], [1, eLow1], [2, eLowStreak], [0, eLowGap], [0, eLowGap2], [0, eLowGap3], [0, eLowGap4], [2, eLow2], [2, eLow2Blob], [2, eLow2High], [2, eLow2High2], [2, eLow2High3], [3, eLow3], [3, eLow3High], [4, eLow4], [5, eLow5], [6, eLow6], [-1, buildingPlan]],
  },
  {
    cap: "f", capX: 3515, capY: 3046, x0: 3033, x1: 4169, top: [1668, 2318], bottom: [2385, 2790], cut: false, lowLabel: "z/H",
    topLayers: [[0, fullTop], [1, fTopBand], [1, fTop1], [1, fTop1Foot], [2, fTop2], [3, fTop3], [4, fTop4], [5, fTop5], [6, fTop6], [-1, buildingSide]],
    lowLayers: [[0, fullBottom], [1, fLow1], [2, fLow2], [3, fLow3], [4, fLow4], [-1, buildingPlan]],
  },
  {
    cap: "g", capX: 1390, capY: 4562, x0: 897, x1: 2056, top: [3137, 3798], bottom: [3865, 4281], cut: false, lowLabel: "z/H",
    topLayers: [[0, gTop0], [1, gTop1], [1, gTop1Foot], [2, gTop2], [3, gTop3], [3, gTop3Mid], [3, gTop3Wake], [4, gTop4], [5, gTop5], [-1, buildingSide]],
    lowLayers: [[0, gLow0], [1, gLow1], [2, gLow2], [3, gLow3], [-1, buildingPlan]],
  },
  {
    cap: "h", capX: 2807, capY: 4562, x0: 2316, x1: 3463, top: [3153, 3809], bottom: [3874, 4286], cut: false, lowLabel: "z/H",
    topLayers: [[1, fullTop], [0, hTopFoot], [0, hTopLee], [2, hTop2Wall], [2, hTop2Roof], [2, hTop2Wake], [3, hTop3], [-1, buildingSide]],
    lowLayers: [[0, fullBottom], [1, hLow1], [-1, buildingPlan]],
  },
] as any[];

const barRow = [Object.fromEntries(levelColors.map((_, i) => [`b${i}`, levels[i + 1] - levels[i]]))];

function ColorBar() {
  return (
    <div style={{ position: "absolute", left: 1367 - 60, top: 4656 - 10 }}>
      <BarChart width={1539 + 120} height={77 + 10 + 100} data={barRow} layout="vertical" barCategoryGap={0}
        margin={{ top: 10, right: 60, bottom: 0, left: 60 }}>
        {levelColors.map((c, i) => (
          <Bar key={c} dataKey={`b${i}`} stackId="bar" fill={c} isAnimationActive={false} />
        ))}
        <XAxis type="number" domain={[0, 0.21]} ticks={levels} interval={0} height={100} allowDataOverflow
          tick={{ fontSize: 40, fill: "#262626", fontFamily: "DejaVu Sans" }} tickFormatter={(v: number) => v.toFixed(2)}
          tickSize={16} tickMargin={20} tickLine={{ stroke: "#262626", strokeWidth: 3 }} axisLine={false} />
        <YAxis type="category" hide />
        <ReferenceArea x1={0} x2={0.21} fill="none" stroke="#262626" strokeWidth={5} zIndex={2000} />
      </BarChart>
    </div>
  );
}

export default function App() {
  // the browser window can come out smaller than the figure, so fit the figure to it
  const sx = Math.min(1, window.innerWidth / 4233);
  const sy = Math.min(1, window.innerHeight / 4828);
  return (
    <div style={{ position: "absolute", left: 0, top: 0, width: 4233, height: 4828, background: "#fff", transform: `scale(${sx}, ${sy})`, transformOrigin: "0 0" }}>
      {panels.map((p) => (
        <div key={p.cap}>
          <Contour x0={p.x0} x1={p.x1} y0={p.top[0]} y1={p.top[1]} cut={p.cut} low={false} yLabel="z/H" showX={false} layers={p.topLayers} />
          <Contour x0={p.x0} x1={p.x1} y0={p.bottom[0]} y1={p.bottom[1]} cut={p.cut} low yLabel={p.lowLabel} showX layers={p.lowLayers} />
          <div style={{ position: "absolute", left: p.capX - 100, width: 200, top: p.capY - 45, textAlign: "center", fontFamily: "Liberation Serif", fontSize: 68, lineHeight: "90px", color: "#231f20" }}>
            (<b>{p.cap}</b>)
          </div>
        </div>
      ))}
      <ColorBar />
    </div>
  );
}
